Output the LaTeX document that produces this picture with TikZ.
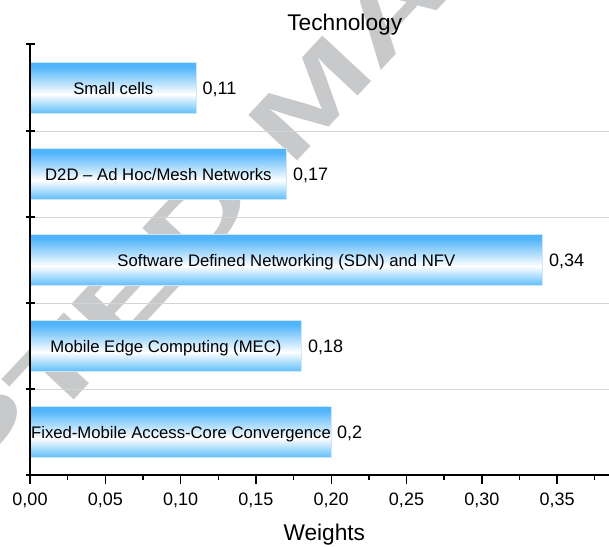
\documentclass[tikz,border=0pt]{standalone}
\usepackage{fontspec}
\setmainfont{Liberation Sans}
\definecolor{barT}{RGB}{80,180,250}
\definecolor{barB}{RGB}{95,190,250}
\definecolor{barline}{RGB}{205,232,252}
\definecolor{wmgray}{RGB}{200,201,203}
\definecolor{gridgray}{RGB}{212,212,212}
\pgfdeclareverticalshading{barshade}{100bp}{color(0bp)=(barB); color(25bp)=(barB); color(44bp)=(white); color(71bp)=(barT); color(75bp)=(barT); color(100bp)=(barT)}
\tikzset{
  bar/.style={rectangle, shading=barshade, draw=barline, line width=0.8pt, inner sep=0pt,
    minimum height=51pt, anchor=west, font=\fontsize{16.7}{20}\selectfont,
    text height=12pt, text depth=0pt},
  val/.style={anchor=west, inner sep=0pt, font=\fontsize{18}{21}\selectfont,
    text height=12.9pt, text depth=0pt},
  ticklab/.style={anchor=base, inner sep=0pt, font=\fontsize{18}{21}\selectfont},
  ttl/.style={anchor=base, inner sep=0pt, font=\fontsize{22.7}{26}\selectfont},
  axisline/.style={black, line width=1.4pt},
  gridline/.style={gridgray, line width=1pt},
  wm/.style={wmgray, inner sep=0pt, font=\fontsize{97}{100}\selectfont\bfseries}
}
\begin{document}
\begin{tikzpicture}[x=1pt, y=-1pt]
\useasboundingbox (0,0) rectangle (609,546);
\begin{scope}
\clip (0,0) rectangle (609,546);
\node[wm, anchor=center, rotate=47] (wmark) at (313,95) {\scalebox{1.6}[1]{ACCEPTED MANUSCRIPT}};
\end{scope}
% grid
\foreach \yy in {131,217,303,389} \draw[gridline] (30,\yy) -- (609,\yy);
% bars
\node[bar, minimum width=165.7pt] (b1) at (30,88) {Small cells};
\node[bar, minimum width=256pt] (b2) at (30,174) {D2D -- Ad Hoc/Mesh Networks};
\node[bar, minimum width=512pt] (b3) at (30,260) {Software Defined Networking (SDN) and NFV};
\node[bar, minimum width=271.1pt] (b4) at (30,346) {Mobile Edge Computing (MEC)};
\node[bar, minimum width=301.2pt] (b5) at (30,432) {Fixed-Mobile Access-Core Convergence};
\node[val] (v1) at ([xshift=6pt]b1.east) {0,11};
\node[val] (v2) at ([xshift=6pt]b2.east) {0,17};
\node[val] (v3) at ([xshift=6pt]b3.east) {0,34};
\node[val] (v4) at ([xshift=6pt]b4.east) {0,18};
\node[val] (v5) at ([xshift=5pt]b5.east) {0,2};
% axes
\coordinate (ytop) at (30,44);
\coordinate (orig) at (30,475);
\coordinate (xend) at (609,475);
\draw[axisline] (ytop) -- (orig) -- (xend);
\foreach \yy in {44,131,217,303,389,475} \draw[axisline] (25.5,\yy) -- (34.5,\yy);
\foreach \i/\lab in {0/{0,00},1/{0,05},2/{0,10},3/{0,15},4/{0,20},5/{0,25},6/{0,30},7/{0,35}} {
  \draw[axisline] ({30+\i*75.3},475) -- ({30+\i*75.3},484);
  \draw[axisline] ({30+(\i+0.5)*75.3},475) -- ({30+(\i+0.5)*75.3},480);
  \node[ticklab] (tl\i) at ({30+\i*75.3},505.7) {\lab};
}
\node[ttl] (title) at (344.7,30.7) {Technology};
\node[ttl] (xlabel) at (324.3,540) {Weights};
\end{tikzpicture}
\end{document}
